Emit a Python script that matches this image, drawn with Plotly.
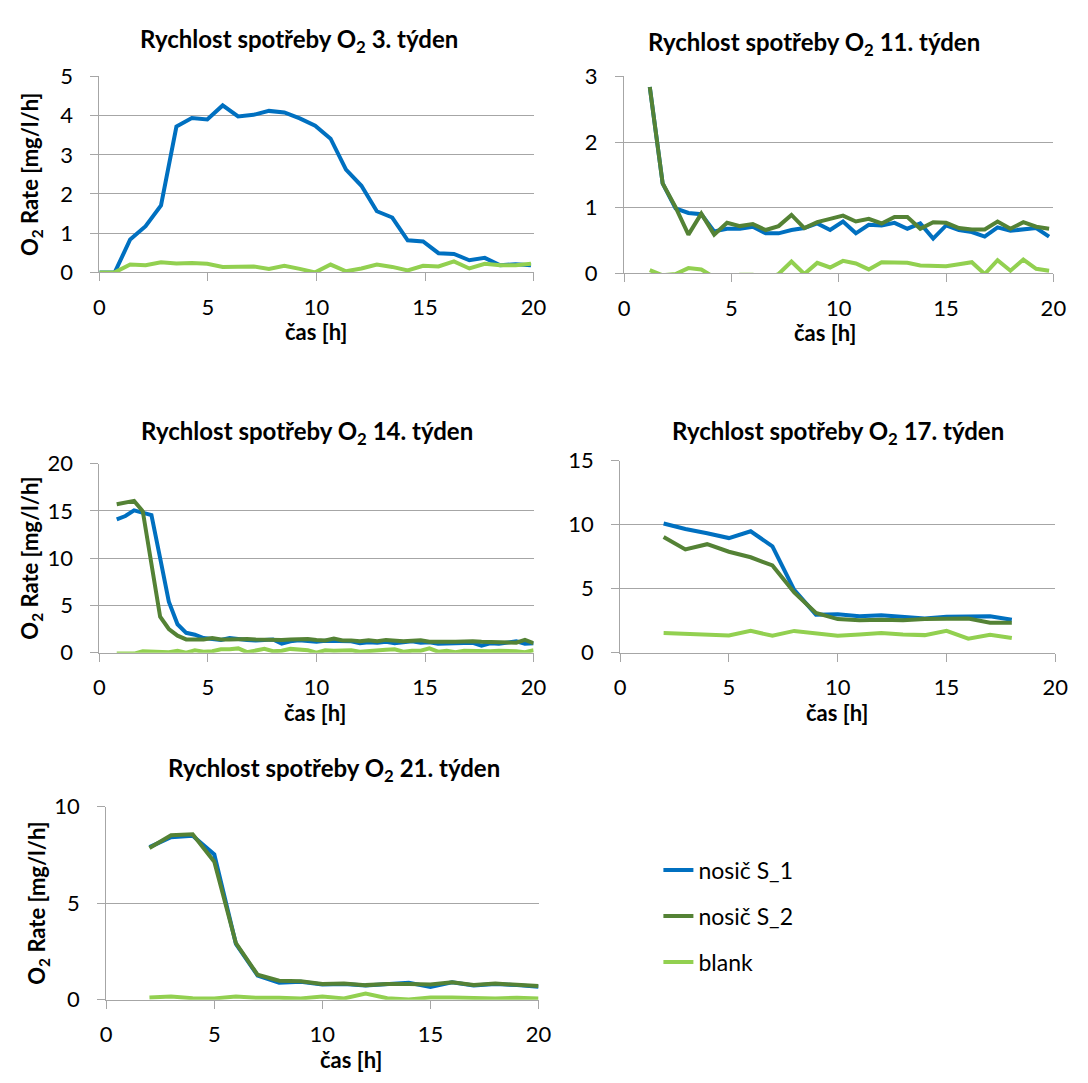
import plotly.graph_objects as go

FONT = "Lato"
BLUE = "#0070C0"
DARK_GREEN = "#548235"
LIGHT_GREEN = "#92D050"
GRID = "#A6A6A6"
W, H = 1088, 1083

# ---- week 3 ----
t_w3 = [0, 0.71, 1.42, 2.13, 2.84, 3.55, 4.26, 4.97, 5.68, 6.39, 7.1, 7.81, 8.52, 9.23,
        9.94, 10.65, 11.36, 12.07, 12.78, 13.49, 14.2, 14.91, 15.62, 16.33, 17.04, 17.75,
        18.46, 19.17, 19.88]
s1_w3 = [0, 0, 0.84, 1.18, 1.71, 3.72, 3.94, 3.9, 4.26, 3.98, 4.02, 4.12, 4.08, 3.93,
         3.74, 3.41, 2.62, 2.21, 1.56, 1.4, 0.82, 0.79, 0.49, 0.47, 0.31, 0.37, 0.18, 0.21, 0.18]
blank_w3 = [0, 0, 0.2, 0.18, 0.26, 0.23, 0.24, 0.22, 0.14, 0.14, 0.15, 0.09, 0.17, 0.09,
            0.0, 0.2, 0.03, 0.1, 0.2, 0.14, 0.05, 0.17, 0.15, 0.28, 0.1, 0.22, 0.18, 0.18, 0.22]

# ---- week 11 ----
t_w11 = [1.2, 1.8, 2.4, 3.0, 3.6, 4.2, 4.8, 5.4, 6.0, 6.6, 7.2, 7.8, 8.4, 9.0, 9.6, 10.2,
         10.8, 11.4, 12.0, 12.6, 13.2, 13.8, 14.4, 15.0, 15.6, 16.2, 16.8, 17.4, 18.0, 18.6,
         19.2, 19.8]
s1_w11 = [2.84, 1.37, 0.99, 0.92, 0.9, 0.64, 0.68, 0.68, 0.71, 0.61, 0.61, 0.66, 0.69, 0.76,
          0.66, 0.79, 0.61, 0.74, 0.73, 0.77, 0.68, 0.76, 0.53, 0.73, 0.66, 0.63, 0.56, 0.7,
          0.65, 0.67, 0.69, 0.56]
s2_w11 = [2.84, 1.37, 1.01, 0.59, 0.91, 0.59, 0.77, 0.72, 0.75, 0.66, 0.72, 0.89, 0.69, 0.78,
          0.83, 0.88, 0.79, 0.83, 0.76, 0.86, 0.86, 0.68, 0.78, 0.77, 0.69, 0.67, 0.67, 0.79,
          0.68, 0.78, 0.71, 0.68]
blank_w11 = [0.05, -0.03, -0.01, 0.08, 0.06, -0.06, -0.08, -0.02, -0.02, -0.08, -0.01, 0.18,
             -0.01, 0.16, 0.09, 0.19, 0.15, 0.06, 0.17, 0.16, 0.16, 0.12, 0.11, 0.11, 0.14,
             0.17, -0.01, 0.2, 0.04, 0.21, 0.07, 0.04]

# ---- week 14 ----
t_w14 = [0.8, 1.2, 1.6, 2.0, 2.4, 2.8, 3.2, 3.6, 4.0, 4.4, 4.8, 5.2, 5.6, 6.0, 6.4, 6.8,
         7.2, 7.6, 8.0, 8.4, 8.8, 9.2, 9.6, 10.0, 10.4, 10.8, 11.2, 11.6, 12.0, 12.4, 12.8,
         13.2, 13.6, 14.0, 14.4, 14.8, 15.2, 15.6, 16.0, 16.4, 16.8, 17.2, 17.6, 18.0, 18.4,
         18.8, 19.2, 19.6, 20.0]
s1_w14 = [14.1, 14.45, 15.05, 14.85, 14.55, 10.0, 5.4, 3.0, 2.1, 1.9, 1.55,
          1.45, 1.35, 1.55, 1.4, 1.35, 1.3, 1.3, 1.4, 0.95, 1.2, 1.3, 1.2, 1.15, 1.25, 1.2,
          1.15, 1.2, 1.0, 1.1, 1.05, 1.15, 1.0, 1.05, 1.2, 1.05, 1.1, 0.95, 1.0, 1.05, 1.0,
          1.05, 0.75, 1.0, 0.95, 1.05, 1.2, 0.95, 1.0]
s2_w14 = [15.7, 15.9, 16.05, 14.95, 9.2, 3.8, 2.5, 1.8, 1.4, 1.4, 1.4,
          1.55, 1.4, 1.4, 1.45, 1.45, 1.4, 1.35, 1.4, 1.35, 1.4, 1.45, 1.45, 1.35, 1.3, 1.5,
          1.3, 1.3, 1.2, 1.3, 1.2, 1.35, 1.25, 1.2, 1.25, 1.3, 1.15, 1.2, 1.15, 1.15, 1.2,
          1.2, 1.15, 1.1, 1.1, 1.05, 1.05, 1.35, 1.0]
blank_w14 = [-0.1, -0.1, -0.1, 0.15, 0.1, 0.1, 0.05, 0.2, 0.0, 0.25, 0.1, 0.15, 0.35, 0.35,
             0.45, 0.05, 0.2, 0.4, 0.15, 0.2, 0.4, 0.3, 0.25, 0.0, 0.25, 0.2, 0.25, 0.25, 0.1,
             0.2, 0.3, 0.3, 0.35, 0.1, 0.2, 0.2, 0.45, 0.1, 0.2, 0.05, 0.2, 0.15, 0.2, 0.15,
             0.2, 0.2, 0.15, 0.05, 0.25]

# ---- week 17 ----
t_w17 = [2, 3, 4, 5, 6, 7, 8, 9, 10, 11, 12, 13, 14, 15, 16, 17, 18]
s1_w17 = [10.09, 9.66, 9.33, 8.95, 9.48, 8.31, 4.91, 2.97, 3.0, 2.85, 2.92, 2.82, 2.67, 2.8,
          2.8, 2.85, 2.57]
s2_w17 = [9.03, 8.06, 8.47, 7.88, 7.45, 6.81, 4.7, 3.1, 2.62, 2.54, 2.57, 2.54, 2.62, 2.67,
          2.67, 2.34, 2.34]
blank_w17 = [1.53, 1.47, 1.42, 1.35, 1.7, 1.32, 1.7, 1.53, 1.32, 1.42, 1.53, 1.42, 1.37, 1.7,
             1.09, 1.4, 1.14]

# ---- week 21 ----
t_w21 = [2, 3, 4, 5, 6, 7, 8, 9, 10, 11, 12, 13, 14, 15, 16, 17, 18, 19, 20]
s1_w21 = [7.91, 8.42, 8.5, 7.53, 2.9, 1.26, 0.88, 0.93, 0.79, 0.82, 0.74, 0.79, 0.88, 0.67,
          0.91, 0.74, 0.82, 0.76, 0.67]
s2_w21 = [7.86, 8.52, 8.57, 7.15, 2.93, 1.3, 0.99, 0.96, 0.82, 0.84, 0.76, 0.82, 0.82, 0.79,
          0.91, 0.77, 0.84, 0.77, 0.71]
blank_w21 = [0.12, 0.17, 0.08, 0.07, 0.17, 0.1, 0.1, 0.07, 0.17, 0.07, 0.32, 0.08, 0.02,
             0.12, 0.12, 0.07, 0.07, 0.1, 0.07]

weeks = ["3", "11", "14", "17", "21"]
y_max = [5, 3, 20, 15, 10]
y_step = [1, 1, 5, 5, 5]
series_names = ["nosič S_1", "nosič S_2", "blank"]
series_colors = [BLUE, DARK_GREEN, LIGHT_GREEN]

panels = [
    (t_w3, [s1_w3, None, blank_w3]),
    (t_w11, [s1_w11, s2_w11, blank_w11]),
    (t_w14, [s1_w14, s2_w14, blank_w14]),
    (t_w17, [s1_w17, s2_w17, blank_w17]),
    (t_w21, [s1_w21, s2_w21, blank_w21]),
]

# plot-area boxes in pixels: left, right, top, bottom
boxes = [(95, 537, 64, 265), (629, 1066, 64, 266), (95, 537, 461, 655),
         (625, 1068, 458, 655), (102, 542, 813, 1011)]
title_pos = [(298, 27), (822, 30), (306, 429), (847, 429), (334, 775)]
xtitle_x = [316, 834, 314, 846, 351]
show_ytitle = [True, False, True, False, True]

fig = go.Figure()
for i, (t, ys) in enumerate(panels):
    ax = "" if i == 0 else str(i + 1)
    for k, vals in enumerate(ys):
        if vals is None:
            continue
        name = series_names[k]
        fig.add_trace(go.Scatter(
            x=t, y=vals, mode="lines", name=name,
            line=dict(color=series_colors[k], width=4),
            xaxis="x" + ax, yaxis="y" + ax,
            legendgroup=name, legendrank=k + 1,
            showlegend=(i == 2),
        ))

axis_common = dict(
    showline=True, linecolor=GRID, linewidth=1,
    ticks="outside", ticklen=8, tickcolor=GRID, tickwidth=1,
    tickfont=dict(family=FONT, size=22, color="#000000"),
    zeroline=False, fixedrange=True,
)

annotations = []
for i, (l, r, tp, b) in enumerate(boxes):
    ax = "" if i == 0 else str(i + 1)
    fig.layout["xaxis" + ax] = dict(
        domain=[l / W, r / W], range=[0, 20], tick0=0, dtick=5,
        showgrid=False, anchor="y" + ax, ticklabelstandoff=7, **axis_common)
    fig.layout["yaxis" + ax] = dict(
        domain=[1 - b / H, 1 - tp / H], range=[0, y_max[i]], tick0=0, dtick=y_step[i],
        showgrid=True, gridcolor=GRID, gridwidth=1, anchor="x" + ax,
        ticklabelstandoff=13, **axis_common)

    tx, ty = title_pos[i]
    annotations.append(dict(
        text=f"<b>Rychlost spotřeby O<sub>2</sub> {weeks[i]}. týden</b>",
        xref="paper", yref="paper", x=tx / W, y=1 - ty / H,
        xanchor="center", yanchor="middle", showarrow=False,
        font=dict(family=FONT, size=24, color="#000000")))
    annotations.append(dict(
        text="<b>čas [h]</b>", xref="paper", yref="paper",
        x=xtitle_x[i] / W, y=1 - (b + 61) / H,
        xanchor="center", yanchor="middle", showarrow=False,
        font=dict(family=FONT, size=22, color="#000000")))
    if show_ytitle[i]:
        annotations.append(dict(
            text="<b>O<sub>2</sub> Rate [mg/l/h]</b>", xref="paper", yref="paper",
            x=(l - 69) / W, y=1 - (tp + b) / 2 / H, textangle=-90,
            xanchor="center", yanchor="middle", showarrow=False,
            font=dict(family=FONT, size=22, color="#000000")))

fig.update_layout(
    width=W, height=H, margin=dict(l=0, r=0, t=0, b=0),
    paper_bgcolor="white", plot_bgcolor="white",
    font=dict(family=FONT, color="#000000"),
    annotations=annotations,
    legend=dict(
        x=664 / W, y=1 - 856 / H, xanchor="left", yanchor="top",
        traceorder="grouped", tracegroupgap=13,
        font=dict(family=FONT, size=23, color="#000000"),
        bgcolor="rgba(0,0,0,0)", itemwidth=30,
    ),
)

fig.write_html("out.html", config={"displayModeBar": False})
